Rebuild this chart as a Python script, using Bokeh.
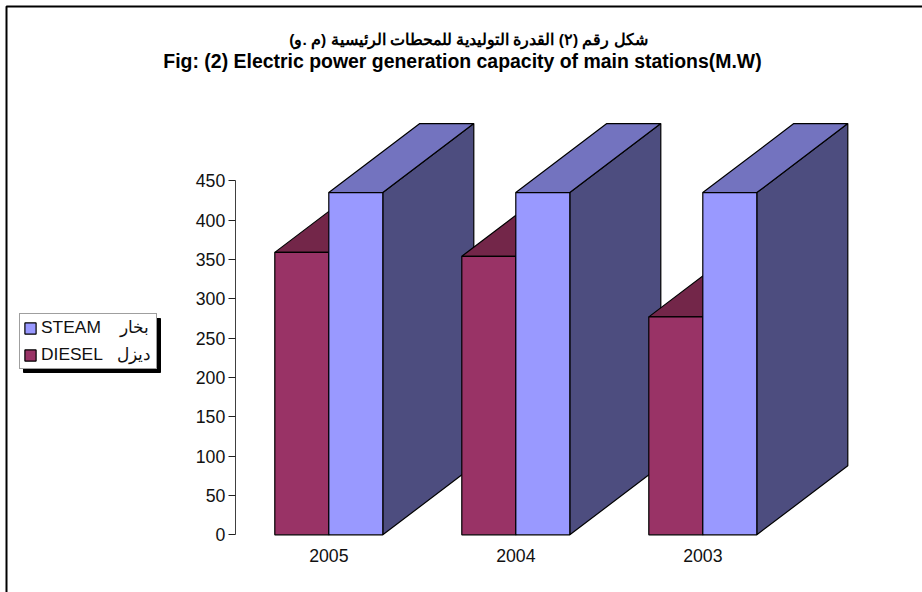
from bokeh.embed import file_html
from bokeh.resources import INLINE
from bokeh.plotting import figure
from bokeh.models import Label, Legend, LegendItem, BoxAnnotation, FixedTicker, Range1d

years = ["2005", "2004", "2003"]
steam = [435, 435, 435]
diesel = [359, 354, 277]
steam_label = "STEAM    بخار"
diesel_label = "DIESEL   ديزل"
title_ar = "شكل رقم (٢) القدرة التوليدية للمحطات الرئيسية (م .و)"
title_en = "Fig: (2) Electric power generation capacity of main stations(M.W)"
y_ticks = [0, 50, 100, 150, 200, 250, 300, 350, 400, 450]

W, H = 922, 592
X0, Y0 = 328.3, 534.3
PX_X, PX_Y = 187.0, 354.0 / 450
HALF = 54.0 / PX_X
DX, DY = 91.0 / PX_X, 69.0 / PX_Y
AXIS_X = -0.5

p = figure(width=W, height=H, output_backend="svg", toolbar_location=None,
           x_range=Range1d(-X0 / PX_X, (W - X0) / PX_X),
           y_range=Range1d(-(H - Y0) / PX_Y, Y0 / PX_Y),
           min_border=0, outline_line_color=None, background_fill_color="white")
p.styles = {"position": "absolute", "left": "0px", "top": "0px"}
p.grid.visible = False

p.yaxis.fixed_location = AXIS_X
p.yaxis.ticker = FixedTicker(ticks=y_ticks)
p.yaxis.bounds = (0, 450)
p.yaxis.axis_line_color = "#404040"
p.yaxis.major_tick_line_color = "#202020"
p.yaxis.major_tick_in = 0
p.yaxis.major_tick_out = 7
p.yaxis.minor_tick_line_color = None
p.yaxis.major_label_standoff = 3
p.yaxis.major_label_text_font = "Liberation Sans"
p.yaxis.major_label_text_font_size = "17.7px"
p.yaxis.major_label_text_color = "#111111"

p.xaxis.fixed_location = 0
p.xaxis.ticker = FixedTicker(ticks=list(range(len(years))))
p.xaxis.major_label_overrides = {i: y for i, y in enumerate(years)}
p.xaxis.axis_line_color = None
p.xaxis.major_tick_line_color = None
p.xaxis.minor_tick_line_color = None
p.xaxis.major_tick_in = 0
p.xaxis.major_tick_out = 0
p.xaxis.major_label_standoff = 14
p.xaxis.major_label_text_font = "Liberation Sans"
p.xaxis.major_label_text_font_size = "17.7px"
p.xaxis.major_label_text_color = "#111111"


def box_faces(x0, x1, v):
    front = ([x0, x1, x1, x0], [0, 0, v, v])
    side = ([x1, x1 + DX, x1 + DX, x1], [0, DY, v + DY, v])
    top = ([x0, x1, x1 + DX, x0 + DX], [v, v, v + DY, v + DY])
    return front, side, top


legend_r = {}
for i in range(len(years)):
    for name, vals, x0, x1, c_front, c_side, c_top in (
        ("diesel", diesel, i - HALF, i, "#993366", "#4D1933", "#732649"),
        ("steam", steam, i, i + HALF, "#9999FF", "#4D4D7F", "#7373BF"),
    ):
        front, side, top = box_faces(x0, x1, vals[i])
        for (xs, ys), col in ((side, c_side), (top, c_top), (front, c_front)):
            r = p.patch(xs, ys, fill_color=col, line_color="black", line_width=1.2)
            if col == c_front:
                legend_r.setdefault(name, r)

frame_box = BoxAnnotation(left=6, right=940, top=6, bottom=620, left_units="canvas",
                          right_units="canvas", top_units="canvas", bottom_units="canvas",
                          fill_alpha=0, line_color="black", line_width=2, line_alpha=1)
p.add_layout(frame_box)

shadow = BoxAnnotation(left=23, right=160, top=318, bottom=372, left_units="canvas",
                       right_units="canvas", top_units="canvas", bottom_units="canvas",
                       fill_color="black", fill_alpha=1, line_color="black", line_alpha=1)
p.add_layout(shadow)

legend = Legend(items=[LegendItem(label=steam_label, renderers=[legend_r["steam"]]),
                       LegendItem(label=diesel_label, renderers=[legend_r["diesel"]])],
                location=(19, H - 369), orientation="vertical",
                label_text_font="Liberation Sans", label_text_font_size="17.4px",
                label_text_color="#111111", glyph_width=14, glyph_height=14,
                spacing=6, padding=3, margin=0, label_standoff=4, label_height=20,
                label_width=112, border_line_color="#404040",
                background_fill_color="white", background_fill_alpha=1)
p.add_layout(legend, "center")

for txt, x, y, size in ((title_ar, 468, 39, "15.5px"), (title_en, 462, 60, "19.45px")):
    p.add_layout(Label(x=x, y=y, x_units="canvas", y_units="canvas", text=txt,
                       text_align="center", text_baseline="middle",
                       text_font="Liberation Sans", text_font_style="bold",
                       text_font_size=size, text_color="black"))

open("out.html", "w").write(file_html(p, INLINE))
